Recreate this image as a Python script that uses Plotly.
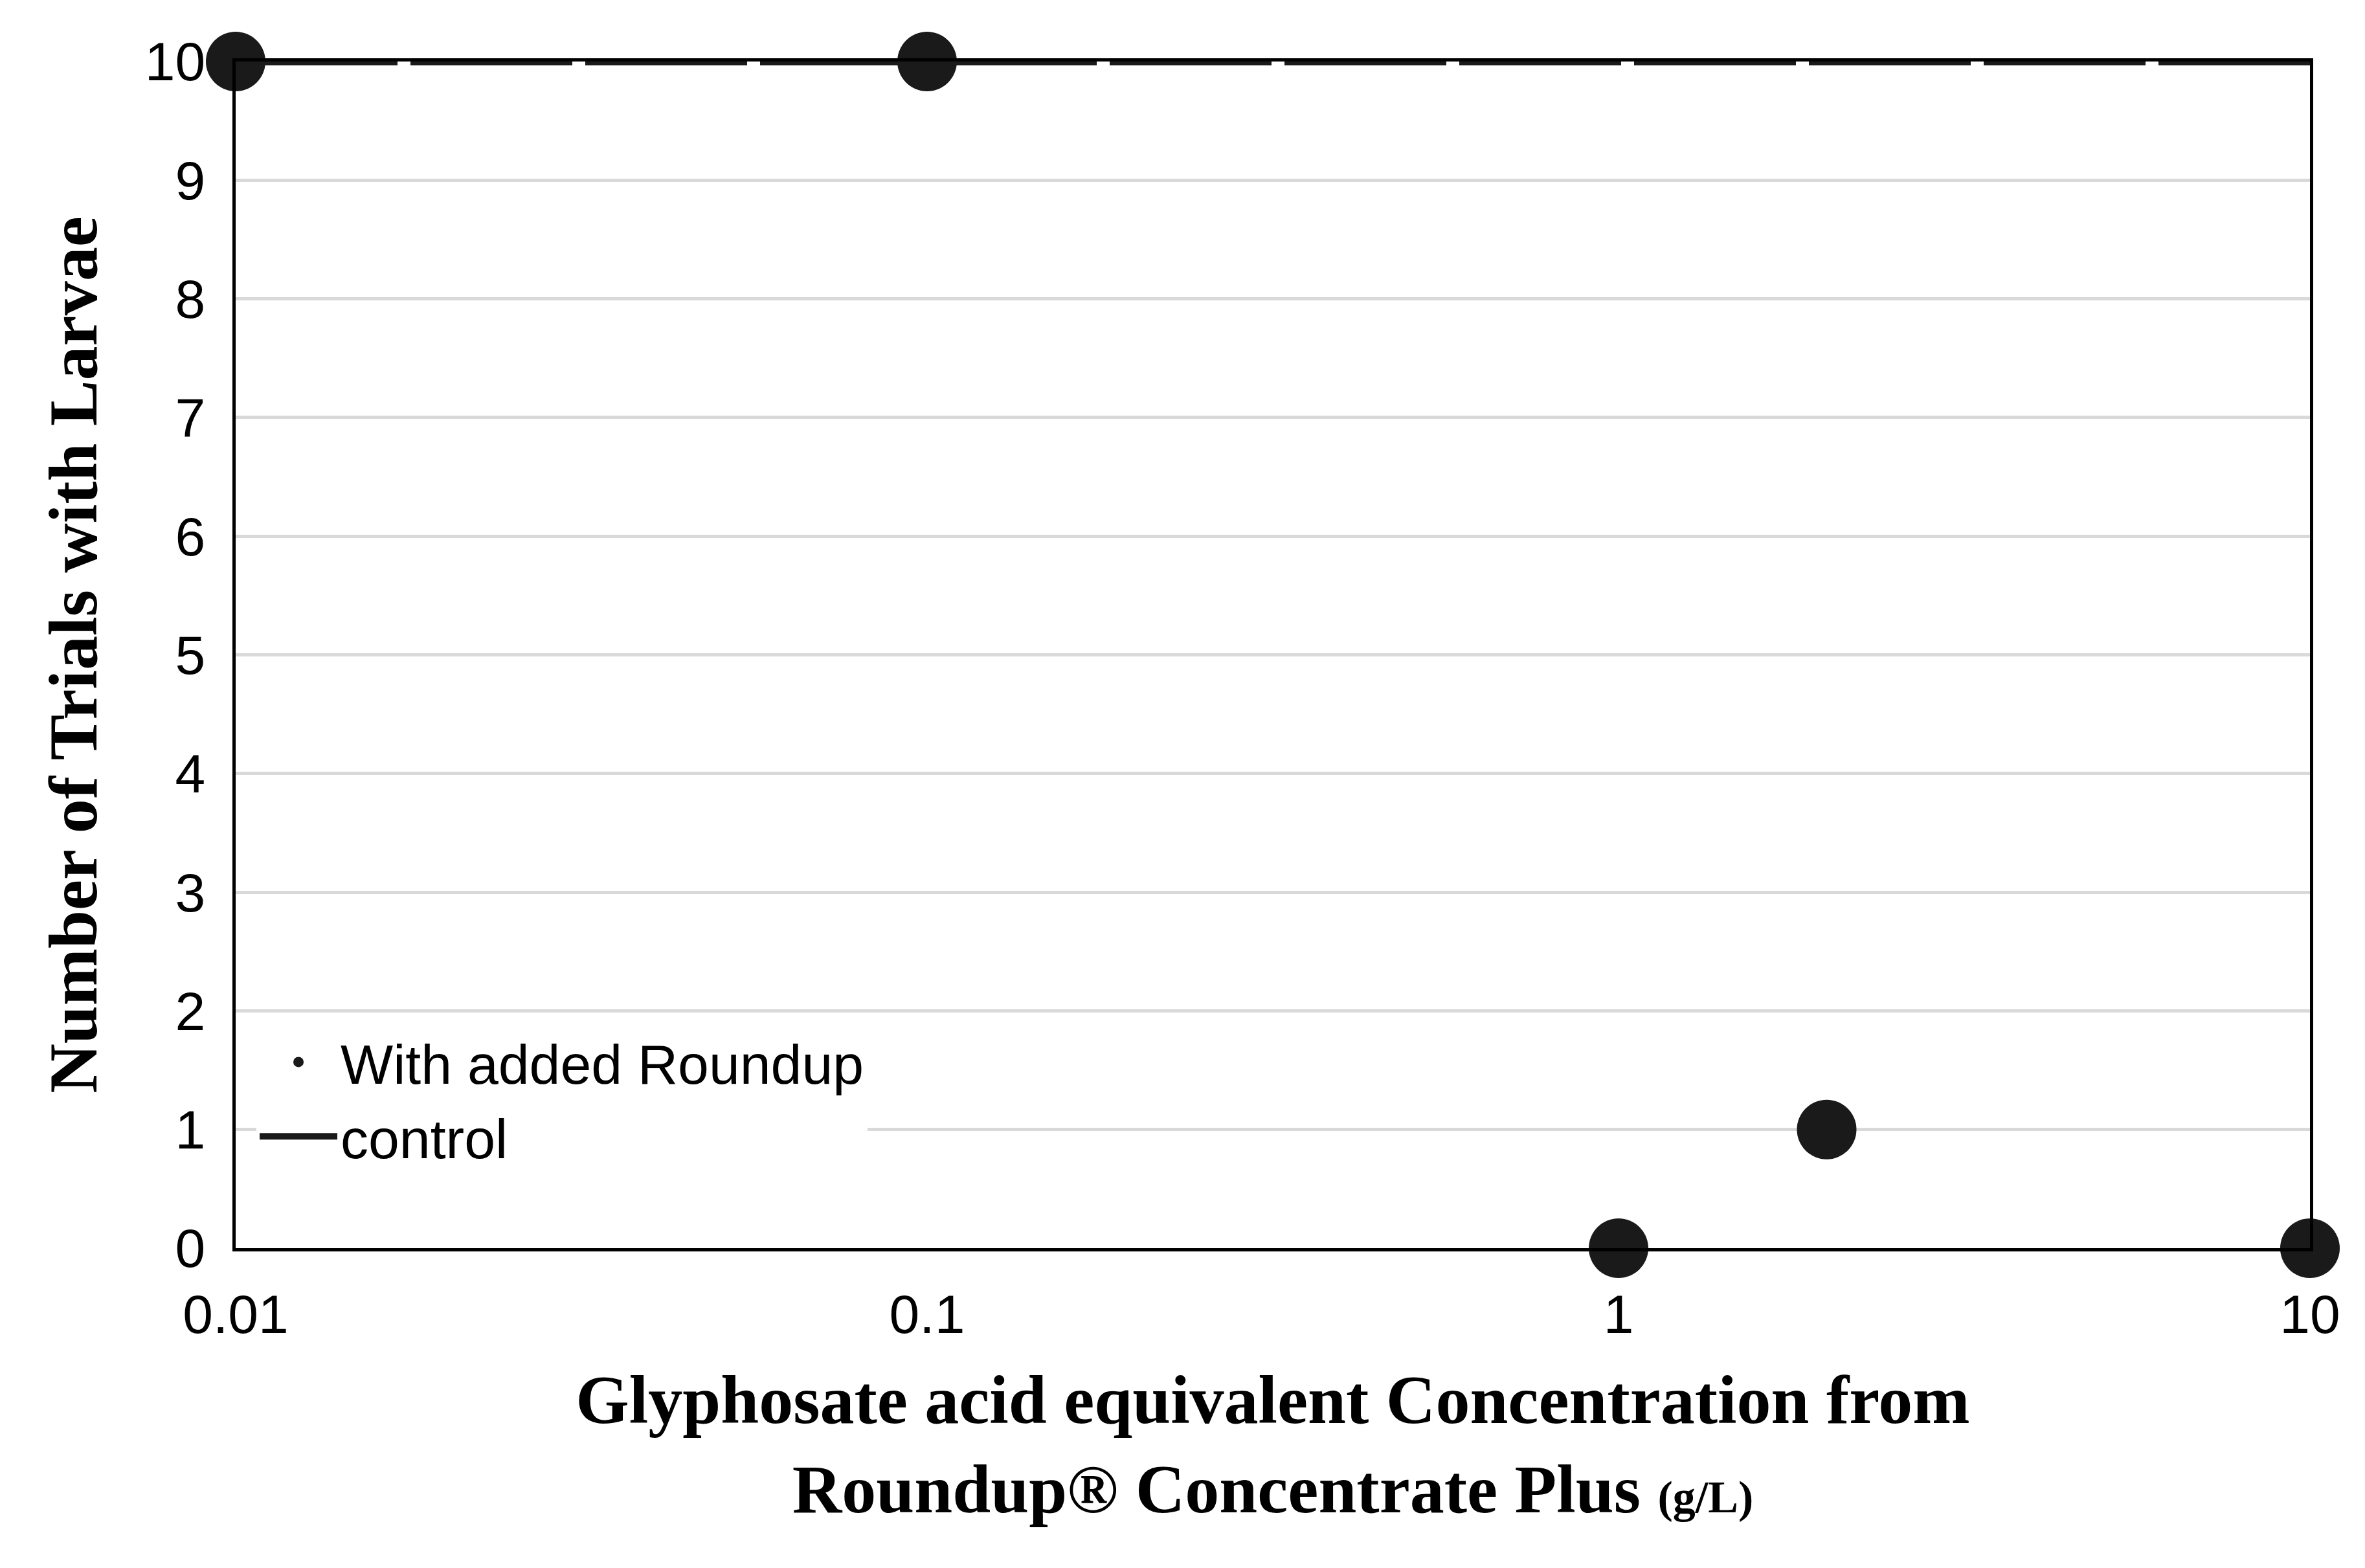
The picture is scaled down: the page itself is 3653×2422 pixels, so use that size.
import plotly.graph_objects as go

conc = [0.01, 0.1, 1, 2, 10]
trials = [10, 10, 0, 1, 0]
control_x = [0.01, 10]
control_y = [10, 10]
yticks = list(range(0, 11))
xticks = [0.01, 0.1, 1, 10]
xtick_labels = ["0.01", "0.1", "1", "10"]

fig = go.Figure()
fig.add_trace(go.Scatter(x=control_x, y=control_y, mode="lines", name="control",
                         line=dict(color="#1a1a1a", width=12, dash="250px,20px"), cliponaxis=False))
fig.add_trace(go.Scatter(x=conc, y=trials, mode="markers", name="With added Roundup",
                         marker=dict(color="#1a1a1a", size=92), cliponaxis=False))

fig.update_layout(
    width=3653, height=2422, plot_bgcolor="white", paper_bgcolor="white",
    margin=dict(l=356, r=93, t=87, b=502),
    font=dict(family="Liberation Sans", size=84, color="black"),
    legend=dict(x=0.01, y=0.06, xanchor="left", yanchor="bottom", bgcolor="white",
                font=dict(size=86), traceorder="reversed", itemwidth=120, tracegroupgap=40),
    xaxis=dict(type="log", range=[-2, 1], tickvals=xticks, ticktext=xtick_labels,
               showline=True, linecolor="black", linewidth=5, mirror=True, showgrid=False,
               ticks="", ticklen=0, ticklabelstandoff=25,
               title=dict(text="<b>Glyphosate acid equivalent Concentration from<br>Roundup® Concentrate Plus <span style='font-size:70px'>(g/L)</span></b>",
                          font=dict(family="Liberation Serif", size=106, color="black"), standoff=50)),
    yaxis=dict(range=[0, 10], tickvals=yticks, showline=True, linecolor="black", linewidth=5,
               mirror=True, showgrid=True, gridcolor="#d9d9d9", gridwidth=5, zeroline=False,
               ticks="", ticklen=0, ticklabelstandoff=25,
               title=dict(text="<b>Number of Trials with Larvae</b>",
                          font=dict(family="Liberation Serif", size=106, color="black"), standoff=40)),
)
fig.update_xaxes(tickfont=dict(size=84))
fig.update_yaxes(tickfont=dict(size=84))
fig.write_html("out.html")
